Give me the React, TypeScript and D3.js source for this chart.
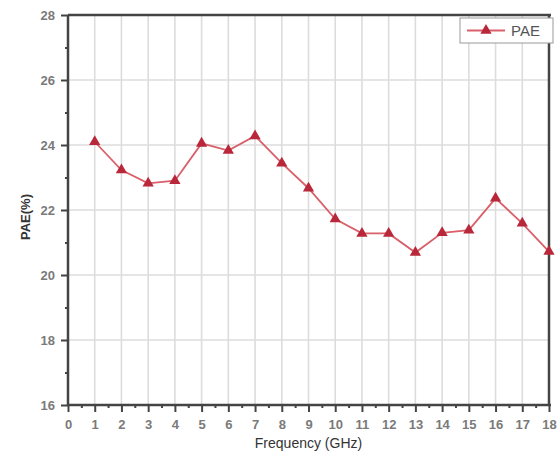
import * as d3 from "d3";
import { useEffect, useRef } from "react";

// Data
const frequencies = [1, 2, 3, 4, 5, 6, 7, 8, 9, 10, 11, 12, 13, 14, 15, 16, 17, 18];
const pae = [
  24.1, 23.23, 22.82, 22.9, 24.05, 23.83, 24.28, 23.44, 22.67,
  21.72, 21.28, 21.28, 20.69, 21.3, 21.38, 22.36, 21.59, 20.72
];
const xTicks = d3.range(0, 19);
const yTicks = [16, 18, 20, 22, 24, 26, 28];
const yMinorTicks = [17, 19, 21, 23, 25, 27];

const W = 559;
const H = 458;
const margin = { top: 15, right: 10, bottom: 53, left: 68 };
const font = "'Liberation Sans', Arial, sans-serif";

const drawChart = (node: SVGSVGElement) => {
  const svg = d3.select(node);
  svg.selectAll("*").remove();

  const data = frequencies.map((f, i) => ({ f, v: pae[i] }));

  const x = d3.scaleLinear().domain([0, 18]).range([margin.left, W - margin.right]);
  const y = d3.scaleLinear().domain([16, 28]).range([H - margin.bottom, margin.top]);

  svg.append("rect").attr("width", W).attr("height", H).attr("fill", "#fff");

  // grid
  const grid = svg.append("g").attr("stroke", "#dcdcdc").attr("stroke-width", 1.6);
  grid.selectAll("line.v")
    .data(xTicks.slice(1, -1))
    .join("line")
    .attr("x1", d => x(d)).attr("x2", d => x(d))
    .attr("y1", y(28)).attr("y2", y(16));
  grid.selectAll("line.h")
    .data(yTicks.slice(1, -1))
    .join("line")
    .attr("x1", x(0)).attr("x2", x(18))
    .attr("y1", d => y(d)).attr("y2", d => y(d));

  // axes
  const xAxis = d3.axisBottom(x).tickValues(xTicks).tickSize(7).tickPadding(8).tickFormat(d3.format("d"));
  const xMinor = d3.axisBottom(x).tickValues(d3.range(0.5, 18, 1)).tickSize(3).tickFormat(() => "");
  const yAxis = d3.axisLeft(y).tickValues(yTicks).tickSize(7).tickPadding(6).tickFormat(d3.format("d"));
  const yMinor = d3.axisLeft(y).tickValues(yMinorTicks).tickSize(3).tickFormat(() => "");

  const style = (g: d3.Selection<SVGGElement, unknown, null, undefined>) => {
    g.select(".domain").remove();
    g.selectAll(".tick line").attr("stroke", "#444").attr("stroke-width", 2);
    g.selectAll(".tick text")
      .attr("fill", "#7a7a7a")
      .style("font-family", font)
      .style("font-size", "13px")
      .style("font-weight", "bold");
  };

  svg.append("g").attr("transform", `translate(0,${y(16)})`).call(xAxis).call(style);
  svg.append("g").attr("transform", `translate(0,${y(16)})`).call(xMinor).call(style);
  svg.append("g").attr("transform", `translate(${x(0)},0)`).call(yAxis).call(style);
  svg.append("g").attr("transform", `translate(${x(0)},0)`).call(yMinor).call(style);

  // frame
  const frame = svg.append("g").attr("stroke", "#444").attr("stroke-width", 2.5).attr("fill", "none");
  frame.append("line").attr("x1", x(0)).attr("x2", x(0)).attr("y1", y(28)).attr("y2", y(16) + 1);
  frame.append("line").attr("x1", x(0)).attr("x2", x(18) + 2).attr("y1", y(16)).attr("y2", y(16));
  frame.append("line").attr("x1", x(0)).attr("x2", x(18) + 2).attr("y1", y(28)).attr("y2", y(28));
  frame.append("line").attr("x1", x(18)).attr("x2", x(18)).attr("y1", y(28)).attr("y2", y(16));

  // series
  const line = d3.line<{ f: number; v: number }>().x(d => x(d.f)).y(d => y(d.v));
  svg.append("path")
    .datum(data)
    .attr("fill", "none")
    .attr("stroke", "#d9606a")
    .attr("stroke-width", 1.8)
    .attr("d", line);

  const tri = d3.symbol().type(d3.symbolTriangle).size(55);
  svg.selectAll("path.pt")
    .data(data)
    .join("path")
    .attr("class", "pt")
    .attr("transform", d => `translate(${x(d.f)},${y(d.v)})`)
    .attr("d", tri)
    .attr("fill", "#b8283a");

  // legend (sits over the right border)
  const lg = svg.append("g").attr("transform", `translate(460,18)`);
  lg.append("rect").attr("width", 93).attr("height", 25)
    .attr("fill", "#fff").attr("stroke", "#999").attr("stroke-width", 1);
  lg.append("line").attr("x1", 7).attr("x2", 45).attr("y1", 12.5).attr("y2", 12.5)
    .attr("stroke", "#d9606a").attr("stroke-width", 1.8);
  lg.append("path").attr("transform", "translate(26,12.5)").attr("d", tri).attr("fill", "#b8283a");
  lg.append("text").attr("x", 51).attr("y", 18)
    .text("PAE")
    .attr("fill", "#555")
    .style("font-family", font)
    .style("font-size", "15px");

  // axis titles
  svg.append("text")
    .attr("x", (x(0) + x(18)) / 2)
    .attr("y", 448)
    .attr("text-anchor", "middle")
    .attr("fill", "#333")
    .style("font-family", font)
    .style("font-size", "14px")
    .text("Frequency (GHz)");

  svg.append("text")
    .attr("transform", `translate(30,217) rotate(-90)`)
    .attr("text-anchor", "middle")
    .attr("fill", "#333")
    .style("font-family", font)
    .style("font-size", "13px")
    .style("font-weight", "bold")
    .text("PAE(%)");
};

export default function App() {
  const ref = useRef<SVGSVGElement>(null);

  useEffect(() => {
    if (ref.current) drawChart(ref.current);
  }, []);

  return (
    <svg
      ref={ref}
      width={W}
      height={H}
      style={{ position: "absolute", left: 0, top: 0, display: "block" }}
    />
  );
}
